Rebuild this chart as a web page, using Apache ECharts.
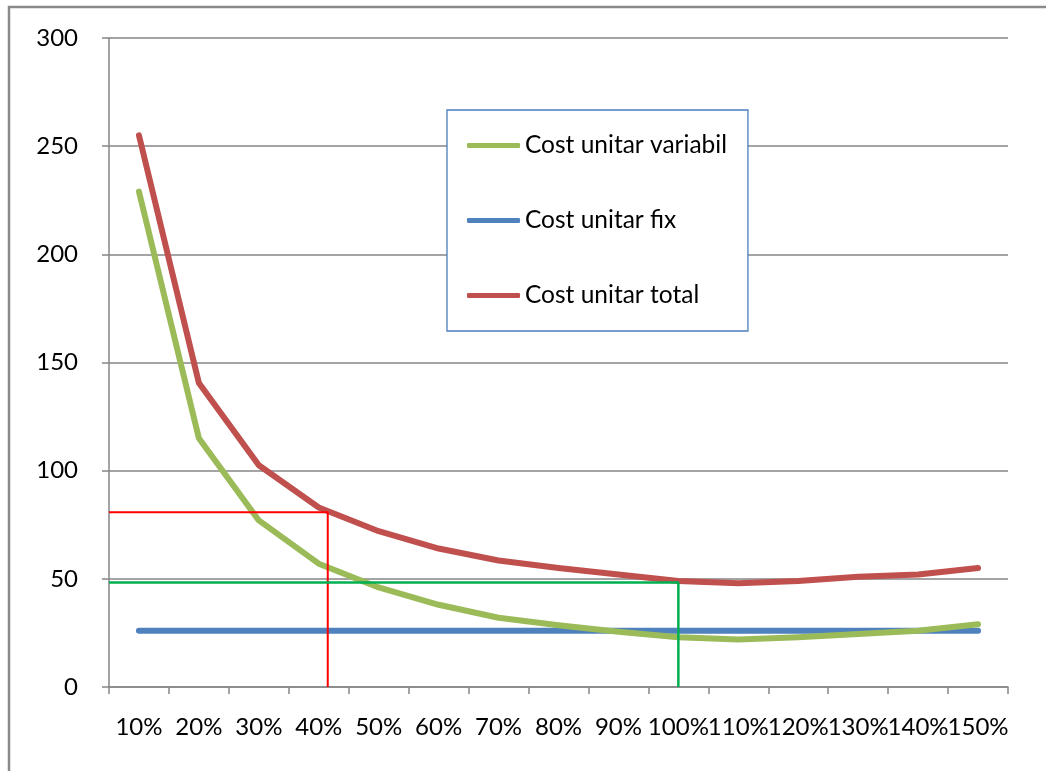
<!DOCTYPE html>
<html>
<head>
<meta charset="utf-8">
<script src="https://cdn.jsdelivr.net/npm/echarts@6/dist/echarts.min.js"></script>
<style>
html,body{margin:0;padding:0;background:#fff;}
#c{width:1046px;height:771px;}
</style>
</head>
<body>
<div id="c"></div>
<script>
const categories = ['10%','20%','30%','40%','50%','60%','70%','80%','90%','100%','110%','120%','130%','140%','150%'];
const costVariabil = [229, 115, 77, 57, 46, 38, 32, 28.5, 25.5, 23, 22, 23, 24.5, 26, 29];
const costFix = [26, 26, 26, 26, 26, 26, 26, 26, 26, 26, 26, 26, 26, 26, 26];
const costTotal = [255, 140.5, 102.5, 83, 72, 64, 58.5, 55, 52, 49, 48, 49, 51, 52, 55];
// guide lines: [category position (index), value]
const redGuide = [3.15, 80.8];
const greenGuide = [9, 48.3];
const yTicks = [0, 50, 100, 150, 200, 250, 300];

const FONT = 'Lato';
const chart = echarts.init(document.getElementById('c'));
const guideData = g => [[-0.5, g[1]], [g[0], g[1]], [g[0], 0]];

chart.setOption({
  animation: false,
  backgroundColor: '#fff',
  graphic: [{
    type: 'rect', silent: true, z: 100,
    shape: {x: 9, y: 7, width: 1200, height: 900},
    style: {fill: 'none', stroke: '#8a8a8a', lineWidth: 2.5}
  }],
  grid: {left: 109, top: 38, right: 38, bottom: 84},
  legend: {
    orient: 'vertical',
    left: 447, top: 110,
    data: ['Cost unitar variabil', 'Cost unitar fix', 'Cost unitar total'],
    backgroundColor: '#fff',
    borderColor: '#4A7EBB', borderWidth: 1.3,
    padding: [23, 21, 23, 20],
    itemGap: 50,
    itemWidth: 53, itemHeight: 5,
    icon: 'roundRect',
    textStyle: {fontFamily: FONT, fontSize: 24.5, color: '#000', lineHeight: 24}
  },
  xAxis: [{
    type: 'category',
    data: categories,
    boundaryGap: true,
    axisLine: {onZero: false, lineStyle: {color: '#868686', width: 1.5}},
    axisTick: {show: true, length: 7, lineStyle: {color: '#868686', width: 1.5}},
    axisLabel: {interval: 0, color: '#000', fontFamily: FONT, fontSize: 24, margin: 28},
    splitLine: {show: false}
  }, {
    type: 'value', min: -0.5, max: 14.5, show: false,
    axisLine: {onZero: false}
  }],
  yAxis: {
    type: 'value', min: 0, max: 300, interval: 50,
    axisLine: {show: true, onZero: false, lineStyle: {color: '#868686', width: 1.5}},
    axisTick: {show: true, length: 7, lineStyle: {color: '#868686', width: 1.5}},
    axisLabel: {color: '#000', fontFamily: FONT, fontSize: 24, margin: 31,
      formatter: v => yTicks.includes(v) ? String(v) : ''},
    splitLine: {show: true, lineStyle: {color: '#868686', width: 1.5}}
  },
  series: [
    {name: 'Cost unitar variabil', type: 'line', data: costVariabil, symbol: 'none',
      itemStyle: {color: '#9BBB59'}, lineStyle: {color: '#9BBB59', width: 6, cap: 'round', join: 'round'}, z: 3},
    {name: 'Cost unitar fix', type: 'line', data: costFix, symbol: 'none',
      itemStyle: {color: '#4F81BD'}, lineStyle: {color: '#4F81BD', width: 6, cap: 'round', join: 'round'}, z: 2},
    {name: 'Cost unitar total', type: 'line', data: costTotal, symbol: 'none',
      itemStyle: {color: '#C0504D'}, lineStyle: {color: '#C0504D', width: 6, cap: 'round', join: 'round'}, z: 4},
    {name: 'guideRed', type: 'line', xAxisIndex: 1, data: guideData(redGuide), symbol: 'none',
      lineStyle: {color: '#FF0000', width: 2}, z: 5},
    {name: 'guideGreen', type: 'line', xAxisIndex: 1, data: guideData(greenGuide), symbol: 'none',
      lineStyle: {color: '#00B050', width: 2.5}, z: 5}
  ]
});
</script>
</body>
</html>
